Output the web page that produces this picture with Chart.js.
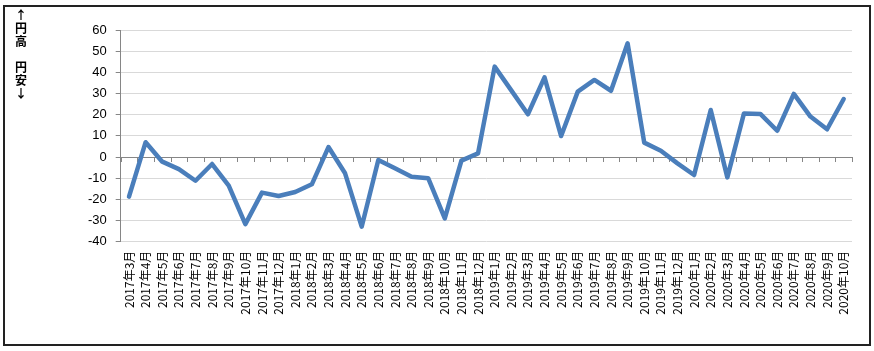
<!DOCTYPE html>
<html>
<head>
<meta charset="utf-8">
<script src="https://cdn.jsdelivr.net/npm/chart.js@4"></script>
<style>
  body { margin: 0; background: #fff; }
  #wrap { position: relative; width: 874px; height: 351px; }
  #frame { position: absolute; left: 3px; top: 5px; width: 864px; height: 337px; border: 2px solid #222; pointer-events: none; }
  #ytitle { position: absolute; left: 13px; top: 8px; width: 16px; text-align: center;
            font: bold 12px "Noto Sans CJK JP", sans-serif; line-height: 13px; color: #000; }
</style>
</head>
<body>
<div id="wrap">
  <canvas id="fx" width="874" height="351"></canvas>
  <div id="frame"></div>
  <div id="ytitle">↑<br>円<br>高<br><br>円<br>安<br>↓</div>
</div>
<script>
const months = [
  "2017年3月", "2017年4月", "2017年5月", "2017年6月", "2017年7月", "2017年8月",
  "2017年9月", "2017年10月", "2017年11月", "2017年12月",
  "2018年1月", "2018年2月", "2018年3月", "2018年4月", "2018年5月", "2018年6月",
  "2018年7月", "2018年8月", "2018年9月", "2018年10月", "2018年11月", "2018年12月",
  "2019年1月", "2019年2月", "2019年3月", "2019年4月", "2019年5月", "2019年6月",
  "2019年7月", "2019年8月", "2019年9月", "2019年10月", "2019年11月", "2019年12月",
  "2020年1月", "2020年2月", "2020年3月", "2020年4月", "2020年5月", "2020年6月",
  "2020年7月", "2020年8月", "2020年9月", "2020年10月",
];
const values = [
  -18.7, 7.0, -2.2, -5.7, -11.2, -3.3, -13.5, -31.7, -16.8, -18.4,
  -16.5, -12.9, 4.7, -7.7, -32.9, -1.4, -5.3, -9.3, -10.0, -29.0,
  -1.7, 1.7, 42.7, 31.5, 20.2, 37.6, 9.9, 30.9, 36.4, 31.3,
  53.7, 6.8, 3.0, -3.0, -8.5, 22.2, -9.6, 20.6, 20.3, 12.4,
  29.8, 19.1, 13.1, 27.4,
];
const yMin = -40;
const yMax = 60;
const yStep = 10;

// small tick marks on the zero line, between categories
const zeroTicks = {
  id: "zeroTicks",
  beforeDatasetsDraw(chart) {
    const xs = chart.scales.x, ys = chart.scales.y;
    const y0 = ys.getPixelForValue(0);
    const half = (xs.getPixelForValue(1) - xs.getPixelForValue(0)) / 2;
    const ctx = chart.ctx;
    ctx.save();
    ctx.strokeStyle = "#868686";
    ctx.lineWidth = 1;
    ctx.beginPath();
    for (let i = 0; i <= months.length; i++) {
      const x = Math.round(xs.getPixelForValue(i) - half) + 0.5;
      ctx.moveTo(x, y0);
      ctx.lineTo(x, y0 + 5);
    }
    ctx.stroke();
    ctx.restore();
  },
};

const ctx = document.getElementById("fx").getContext("2d");
const chart = new Chart(ctx, {
  type: "line",
  data: {
    labels: months,
    datasets: [
      {
        data: values,
        borderColor: "#4a7ebb",
        borderWidth: 4.5,
        pointRadius: 0,
        tension: 0,
        borderJoinStyle: "round",
        borderCapStyle: "round",
      },
    ],
  },
  options: {
    responsive: false,
    animation: false,
    layout: { padding: { left: 0, right: 22, top: 30, bottom: 0 } },
    plugins: { legend: { display: false }, tooltip: { enabled: false } },
    scales: {
      x: {
        offset: true,
        grid: { display: false, drawTicks: false },
        border: { display: false },
        ticks: {
          autoSkip: false,
          minRotation: 90,
          maxRotation: 90,
          padding: 9,
          color: "#000",
          font: { family: "'Noto Sans CJK JP', sans-serif", size: 12 },
        },
        afterFit(scale) { scale.height = 109.3; },
      },
      y: {
        min: yMin,
        max: yMax,
        ticks: {
          stepSize: yStep,
          padding: 9,
          color: "#000",
          font: { family: "'Liberation Sans', sans-serif", size: 13 },
        },
        grid: {
          color: (c) => (c.tick && c.tick.value === 0 ? "#868686" : "#d9d9d9"),
          tickColor: "#868686",
          tickLength: 5,
        },
        border: { color: "#868686" },
        afterFit(scale) { scale.width = 120.7; },
      },
    },
  },
  plugins: [zeroTicks],
});
</script>
</body>
</html>
